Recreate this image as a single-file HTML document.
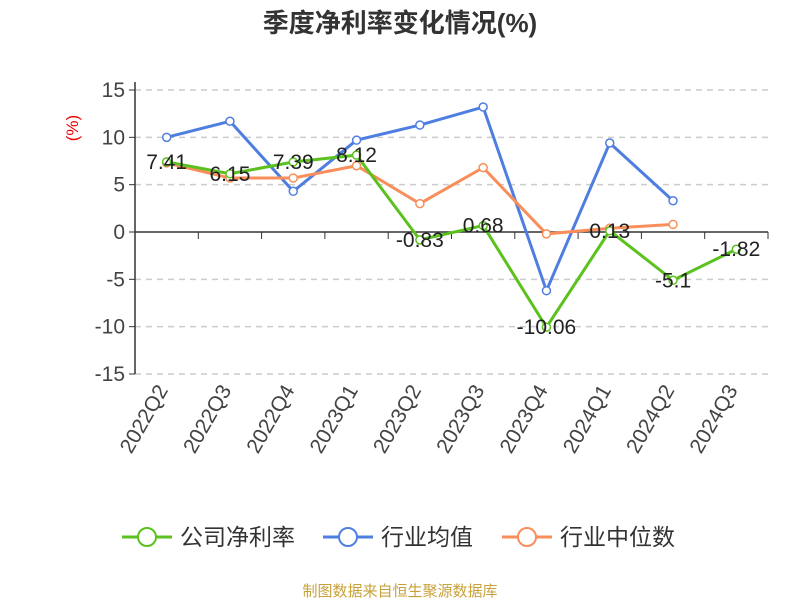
<!DOCTYPE html>
<html><head><meta charset="utf-8"><style>
body{margin:0;background:#fff;}
svg{display:block;font-family:"Liberation Sans","Noto Sans CJK SC",sans-serif;}
</style></head><body>
<svg id="c" width="800" height="600"></svg>
<script>
const categories=["2022Q2","2022Q3","2022Q4","2023Q1","2023Q2","2023Q3","2023Q4","2024Q1","2024Q2","2024Q3"];
const companyValues=[7.41,6.15,7.39,8.12,-0.83,0.68,-10.06,0.13,-5.1,-1.82];
const industryAvg=[10.0,11.7,4.3,9.7,11.3,13.2,-6.2,9.4,3.3,null];
const industryMedian=[7.3,5.7,5.7,7.0,3.0,6.8,-0.2,0.4,0.8,null];
const yTicks=[15,10,5,0,-5,-10,-15];
const svg=document.getElementById('c');
const NS='http://www.w3.org/2000/svg';
const L=135,R=768,T=90,B=374;
const bw=(R-L)/categories.length;
const x=i=>L+bw*(i+0.5);
const y=v=>T+(15-v)/30*(B-T);
function mk(tag,attrs,parent){const e=document.createElementNS(NS,tag);for(const k in attrs)e.setAttribute(k,attrs[k]);(parent||svg).appendChild(e);return e;}
let t=mk('text',{x:400,y:32,'text-anchor':'middle','font-size':26,'font-weight':'bold',fill:'#333'});


t.textContent='季度净利率变化情况(%)';
t=mk('text',{x:78,y:128,'text-anchor':'middle','font-size':17,fill:'#e00',transform:'rotate(-90 78 128)'});


t.textContent='(%)';
yTicks.forEach(v=>{
 if(v!==0){const g=mk('line',{x1:L,x2:R,y1:y(v),y2:y(v),stroke:'#ccc','stroke-dasharray':'6,5','stroke-width':1.5});
 
 }
 const tk=mk('line',{x1:L-6,x2:L,y1:y(v),y2:y(v),stroke:'#333'});
 
 
 const lb=mk('text',{x:L-10,y:y(v)+7,'text-anchor':'end','font-size':21,fill:'#444'});
 
 
 lb.textContent=v;
});
let a=mk('line',{x1:L,x2:L,y1:T-8,y2:B,stroke:'#333','stroke-width':1.5});


a=mk('line',{x1:L,x2:R,y1:y(0),y2:y(0),stroke:'#333','stroke-width':1.5});


categories.forEach((c,i)=>{
 const tk=mk('line',{x1:L+bw*(i+1),x2:L+bw*(i+1),y1:y(0),y2:y(0)+7,stroke:'#333'});
 
 
 const px=x(i)+2,py=390;
 const lb=mk('text',{x:px,y:py,'text-anchor':'end','font-size':21,fill:'#444',transform:`rotate(-60 ${px} ${py})`});
 
 
 lb.textContent=c;
});
function series(vals,color,name){
 let d='';vals.forEach((v,i)=>{if(v===null)return;d+=(d?'L':'M')+x(i)+','+y(v);});
 const p=mk('path',{d,fill:'none',stroke:color,'stroke-width':3});
 
 
 vals.forEach((v,i)=>{if(v===null)return;
  const c=mk('circle',{cx:x(i),cy:y(v),r:4,fill:'#fff',stroke:color,'stroke-width':1.5});
  
  });
}
series(industryAvg,'#4e7fe0','industry-average');
series(industryMedian,'#f98e5a','industry-median');
series(companyValues,'#5bc11f','company-net-margin');
companyValues.forEach((v,i)=>{
 const lb=mk('text',{x:x(i),y:y(v)+7,'text-anchor':'middle','font-size':21,fill:'#222'});
 
 
 lb.textContent=v;
});
const legend=[['公司净利率','#5bc11f',122],['行业均值','#4e7fe0',323],['行业中位数','#f98e5a',502]];
legend.forEach(([n,c,lx])=>{
 const g=mk('g',{});
 
 
 mk('line',{x1:lx,x2:lx+50,y1:537,y2:537,stroke:c,'stroke-width':3},g);
 mk('circle',{cx:lx+25,cy:537,r:9,fill:'#fff',stroke:c,'stroke-width':2},g);
 const tx=mk('text',{x:lx+58,y:545,'font-size':23,fill:'#333'},g);
 tx.textContent=n;
});
t=mk('text',{x:400,y:596,'text-anchor':'middle','font-size':15,fill:'#c9a13a'});


t.textContent='制图数据来自恒生聚源数据库';
</script>
</body></html>
